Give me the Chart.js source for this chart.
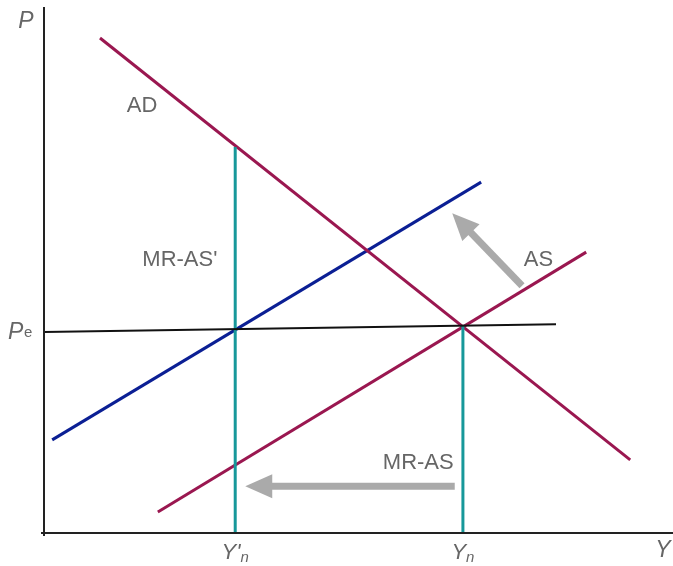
<!DOCTYPE html>
<html>
<head>
<meta charset="utf-8">
<script src="https://cdn.jsdelivr.net/npm/chart.js@4"></script>
<style>
  html, body { margin: 0; padding: 0; background: #fff; }
  #wrap { width: 673px; height: 566px; }
</style>
</head>
<body>
<div id="wrap"><canvas id="c" width="673" height="566"></canvas></div>
<script>
// Output (Y) on x, price level (P) on y, both on a 0..10 scale
const adCurve   = [{ x: 0.89, y: 9.41 }, { x: 9.32, y: 1.39 }];
const asCurve   = [{ x: 1.81, y: 0.40 }, { x: 8.62, y: 5.34 }];
const asShifted = [{ x: 0.13, y: 1.77 }, { x: 6.95, y: 6.67 }];
const peLine    = [{ x: 0.00, y: 3.82 }, { x: 8.14, y: 3.97 }];
const mrasNew   = [{ x: 3.04, y: 0.00 }, { x: 3.04, y: 7.34 }];
const mrasOld   = [{ x: 6.66, y: 0.00 }, { x: 6.66, y: 3.94 }];

// shift arrows: [tail, tip]
const arrowOutput = [{ x: 6.53, y: 0.89 }, { x: 3.20, y: 0.89 }];
const arrowPrice  = [{ x: 7.60, y: 4.70 }, { x: 6.49, y: 6.08 }];

// curve labels placed in data units
const curveLabels = [
  { text: 'AD',     x: 1.56, y: 8.12 },
  { text: "MR-AS'", x: 2.16, y: 5.20 },
  { text: 'AS',     x: 7.86, y: 5.20 },
  { text: 'MR-AS',  x: 5.95, y: 1.33 },
];
// x-axis marks: [main, subscript]
const xMarks = [
  { x: 3.04, main: "Y'", sub: 'n' },
  { x: 6.66, main: 'Y',  sub: 'n' },
];
const peValue = 3.82;

const MAROON = '#9a1750';
const NAVY = '#0b1f94';
const TEAL = '#17989a';
const GREY_TXT = '#666666';
const ARROW = '#aaaaaa';
const FONT = '"Liberation Sans", Arial, sans-serif';

function seg(data, color, width) {
  return {
    data, borderColor: color, borderWidth: width, showLine: true,
    pointRadius: 0, fill: false, tension: 0,
  };
}

const overlay = {
  id: 'overlay',
  afterDatasetsDraw(chart) {
    const { ctx, chartArea: a, scales: { x, y } } = chart;
    ctx.save();

    // axes
    ctx.strokeStyle = '#222';
    ctx.lineWidth = 2;
    ctx.beginPath();
    ctx.moveTo(a.left, a.top);
    ctx.lineTo(a.left, a.bottom + 3);
    ctx.moveTo(a.left - 3, a.bottom);
    ctx.lineTo(a.right, a.bottom);
    ctx.stroke();

    // arrows
    [arrowOutput, arrowPrice].forEach(([t, h]) => {
      const x0 = x.getPixelForValue(t.x), y0 = y.getPixelForValue(t.y);
      const x1 = x.getPixelForValue(h.x), y1 = y.getPixelForValue(h.y);
      const ang = Math.atan2(y1 - y0, x1 - x0);
      const headLen = 27, headHalf = 12;
      const bx = x1 - Math.cos(ang) * headLen, by = y1 - Math.sin(ang) * headLen;
      ctx.strokeStyle = ARROW;
      ctx.fillStyle = ARROW;
      ctx.lineWidth = 7;
      ctx.lineCap = 'butt';
      ctx.beginPath();
      ctx.moveTo(x0, y0);
      ctx.lineTo(bx + Math.cos(ang) * 2, by + Math.sin(ang) * 2);
      ctx.stroke();
      ctx.beginPath();
      ctx.moveTo(x1, y1);
      ctx.lineTo(bx - Math.sin(ang) * headHalf, by + Math.cos(ang) * headHalf);
      ctx.lineTo(bx + Math.sin(ang) * headHalf, by - Math.cos(ang) * headHalf);
      ctx.closePath();
      ctx.fill();
    });

    // curve labels
    ctx.fillStyle = GREY_TXT;
    ctx.font = '22px ' + FONT;
    ctx.textAlign = 'center';
    ctx.textBaseline = 'middle';
    curveLabels.forEach(l => {
      ctx.fillText(l.text, x.getPixelForValue(l.x), y.getPixelForValue(l.y));
    });

    // axis titles
    ctx.font = 'italic 23px ' + FONT;
    ctx.fillText('P', a.left - 18, a.top + 15);
    ctx.fillText('Y', a.right - 10, a.bottom + 18);

    // Pe tick label
    const py = y.getPixelForValue(peValue);
    ctx.textAlign = 'left';
    ctx.fillText('P', 8, py + 1);
    ctx.font = '15px ' + FONT;
    ctx.fillText('e', 24, py + 1);

    // Y'n and Yn tick labels
    xMarks.forEach(m => {
      const px = x.getPixelForValue(m.x);
      ctx.font = 'italic 22px ' + FONT;
      const w = ctx.measureText(m.main).width;
      ctx.font = 'italic 15px ' + FONT;
      const ws = ctx.measureText(m.sub).width;
      const start = px - (w + ws) / 2;
      ctx.textAlign = 'left';
      ctx.font = 'italic 22px ' + FONT;
      ctx.fillText(m.main, start, a.bottom + 20);
      ctx.font = 'italic 15px ' + FONT;
      ctx.fillText(m.sub, start + w, a.bottom + 25);
    });

    ctx.restore();
  },
};

new Chart(document.getElementById('c'), {
  type: 'scatter',
  data: {
    datasets: [
      seg(peLine, '#111', 2),
      seg(mrasNew, TEAL, 3),
      seg(mrasOld, TEAL, 3),
      seg(adCurve, MAROON, 3),
      seg(asCurve, MAROON, 3),
      seg(asShifted, NAVY, 3),
    ],
  },
  options: {
    responsive: false,
    animation: false,
    layout: { padding: { left: 44, right: 0, top: 7, bottom: 33 } },
    plugins: { legend: { display: false }, tooltip: { enabled: false } },
    scales: {
      x: { type: 'linear', min: 0, max: 10, display: false },
      y: { type: 'linear', min: 0, max: 10, display: false },
    },
  },
  plugins: [overlay],
});
</script>
</body>
</html>
